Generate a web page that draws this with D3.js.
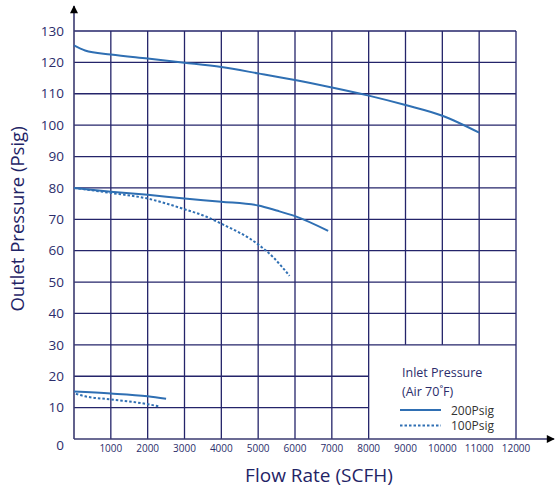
<!DOCTYPE html>
<html>
<head>
<meta charset="utf-8">
<script src="https://cdn.jsdelivr.net/npm/d3@7"></script>
<style>
  body { margin: 0; background: #fff; }
  svg { font-family: "Open Sans", sans-serif; }
</style>
</head>
<body>
<div id="chart"></div>
<script>
// tick values
const xTicks = [1000, 2000, 3000, 4000, 5000, 6000, 7000, 8000, 9000, 10000, 11000, 12000];
const yTicks = [0, 10, 20, 30, 40, 50, 60, 70, 80, 90, 100, 110, 120, 130];

// curves: [flow, pressure]
const high200 = [[0, 125.4], [300, 123.8], [1000, 122.5], [2000, 121.2], [3000, 119.9], [4000, 118.5], [5000, 116.5], [6000, 114.4], [7000, 112], [8000, 109.4], [9000, 106.4], [10000, 103], [11000, 97.6]];
const mid200 = [[0, 80], [1000, 78.8], [2000, 77.8], [3000, 76.6], [4000, 75.6], [5000, 74.4], [5500, 72.8], [6000, 71], [6900, 66.3]];
const mid100 = [[0, 80], [1000, 78.4], [2000, 76.6], [3000, 73.2], [3600, 70.8], [4000, 68.6], [5000, 62], [5400, 58], [5850, 52]];
const low200 = [[0, 15.1], [1000, 14.5], [2000, 13.6], [2500, 12.8]];
const low100 = [[50, 14.4], [300, 13.6], [1000, 12.6], [2000, 11.1], [2300, 10.4]];

const legendLabels = ['200Psig', '100Psig'];

const width = 555, height = 489;
const margin = { top: 31, right: 39, bottom: 50, left: 74 };
const grid = '#24246a';
const blue = '#2f6fb3';
const textCol = '#2b2d6b';

const svg = d3.select('#chart').append('svg')
  .attr('width', width)
  .attr('height', height);

const x = d3.scaleLinear().domain([0, 12000]).range([margin.left, width - margin.right]);
const y = d3.scaleLinear().domain([0, 130]).range([height - margin.bottom, margin.top]);

// legend area is a blank box below 30 and right of 8000
const boxX = 8000, boxY = 30;

// vertical grid lines
svg.append('g').selectAll('line')
  .data(xTicks)
  .enter().append('line')
  .attr('x1', d => x(d)).attr('x2', d => x(d))
  .attr('y1', y(130))
  .attr('y2', d => (d > boxX && d < 12000) ? y(boxY) : y(0))
  .attr('stroke', grid).attr('stroke-width', 1.3);

// horizontal grid lines
svg.append('g').selectAll('line')
  .data(yTicks.filter(d => d > 0))
  .enter().append('line')
  .attr('x1', x(0))
  .attr('x2', d => (d < boxY) ? x(boxX) : x(12000))
  .attr('y1', d => y(d)).attr('y2', d => y(d))
  .attr('stroke', grid).attr('stroke-width', 1.3);

// arrow heads
const defs = svg.append('defs');
defs.append('marker')
  .attr('id', 'arrow')
  .attr('viewBox', '0 0 10 10')
  .attr('refX', 9).attr('refY', 5)
  .attr('markerWidth', 10).attr('markerHeight', 8)
  .attr('markerUnits', 'userSpaceOnUse')
  .attr('orient', 'auto')
  .append('path').attr('d', 'M0,0 L10,5 L0,10 Z').attr('fill', '#000');

// axes
svg.append('line')
  .attr('x1', x(0)).attr('x2', x(0))
  .attr('y1', y(0)).attr('y2', 6)
  .attr('stroke', '#3a3a70').attr('stroke-width', 1.6)
  .attr('marker-end', 'url(#arrow)');
svg.append('line')
  .attr('x1', x(0)).attr('x2', 554)
  .attr('y1', y(0)).attr('y2', y(0))
  .attr('stroke', '#3a3a70').attr('stroke-width', 1.6)
  .attr('marker-end', 'url(#arrow)');

// y tick labels
svg.append('g').selectAll('text')
  .data(yTicks)
  .enter().append('text')
  .attr('x', 64)
  .attr('y', d => d === 0 ? y(d) + 6 : y(d))
  .attr('dy', '0.35em')
  .attr('text-anchor', 'end')
  .attr('font-size', 13.5)
  .attr('fill', textCol)
  .text(d => d);

// x tick labels
svg.append('g').selectAll('text')
  .data(xTicks)
  .enter().append('text')
  .attr('x', d => x(d))
  .attr('y', y(0) + 9)
  .attr('dy', '0.35em')
  .attr('text-anchor', 'middle')
  .attr('font-size', 10)
  .attr('fill', textCol)
  .text(d => d);

// axis titles
svg.append('text')
  .attr('transform', 'translate(24,219) rotate(-90)')
  .attr('text-anchor', 'middle')
  .attr('font-size', 18.5)
  .attr('fill', '#1f2466')
  .text('Outlet Pressure (Psig)');

svg.append('text')
  .attr('x', 319)
  .attr('y', 482)
  .attr('text-anchor', 'middle')
  .attr('font-size', 19)
  .attr('fill', '#1f2466')
  .text('Flow Rate (SCFH)');

// curves
const line = d3.line()
  .x(d => x(d[0]))
  .y(d => y(d[1]))
  .curve(d3.curveMonotoneX);

const curves = [
  { data: high200, dashed: false },
  { data: mid200, dashed: false },
  { data: mid100, dashed: true },
  { data: low200, dashed: false },
  { data: low100, dashed: true }
];

svg.append('g').selectAll('path')
  .data(curves)
  .enter().append('path')
  .attr('d', d => line(d.data))
  .attr('fill', 'none')
  .attr('stroke', blue)
  .attr('stroke-width', 2)
  .attr('stroke-dasharray', d => d.dashed ? '2.5,2' : null);

// legend
const lg = svg.append('g').attr('font-size', 12.5);
lg.append('text').attr('x', 402).attr('y', 377).attr('fill', textCol).text('Inlet Pressure');
lg.append('text').attr('x', 402).attr('y', 396).attr('fill', textCol).text('(Air 70˚F)');
legendLabels.forEach((lab, i) => {
  const ly = 410 + i * 15.5;
  lg.append('line')
    .attr('x1', 400).attr('x2', 441)
    .attr('y1', ly).attr('y2', ly)
    .attr('stroke', blue).attr('stroke-width', 1.8)
    .attr('stroke-dasharray', i === 1 ? '2.5,2' : null);
  lg.append('text')
    .attr('x', 451).attr('y', ly + 4.5)
    .attr('fill', '#333')
    .attr('font-size', 12)
    .text(lab);
});
</script>
</body>
</html>
